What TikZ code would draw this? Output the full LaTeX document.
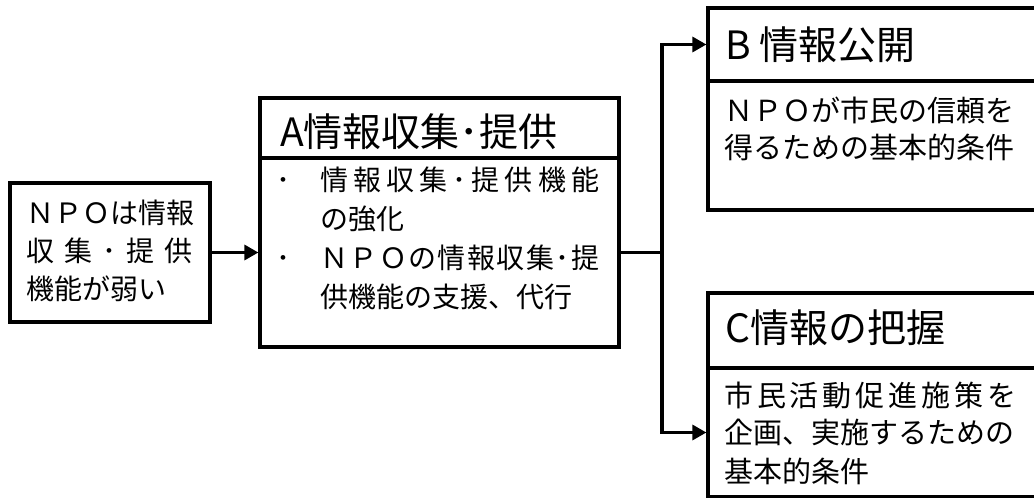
\documentclass[tikz,border=0pt]{standalone}
\usepackage{fontspec}
\newfontfamily\jp{Noto Sans CJK JP}
\usetikzlibrary{arrows.meta}
\def\spx#1{\ifx#1\relax\else\hfill#1\expandafter\spx\fi}
\def\spfirst#1{#1\spx}
\newcommand\jline[2]{\makebox[#1][s]{\spfirst#2\relax}}
\tikzset{
  box/.style={draw, line width=3.2pt, inner sep=0pt, outer sep=1.6pt, rectangle},
  conn/.style={line width=3.2pt},
  arr/.style={conn, -{Triangle[length=14pt,width=15pt]}},
  txt/.style={font=\jp\fontsize{28}{34}\selectfont, anchor=base west, inner sep=0pt},
  txtb/.style={font=\jp\fontsize{29}{35}\selectfont, anchor=base west, inner sep=0pt},
  ttl/.style={font=\jp\fontsize{39}{46}\selectfont, anchor=base west, inner sep=0pt},
}
\begin{document}
\begin{tikzpicture}[x=1pt,y=-1pt]
\useasboundingbox (0,0) rectangle (1034,498);
\clip (0,0) rectangle (1034,498);
% boxes
\node[box, minimum width=200pt, minimum height=139pt] (L) at (110,252.5) {};
\node[box, minimum width=359pt, minimum height=60pt] (At) at (439.5,128) {};
\node[box, minimum width=359pt, minimum height=189pt] (Ab) at (439.5,252.5) {};
\node[box, minimum width=336pt, minimum height=73pt] (Bt) at (876,44.5) {};
\node[box, minimum width=336pt, minimum height=129pt] (Bb) at (876,145.5) {};
\node[box, minimum width=336pt, minimum height=75pt] (Ct) at (876,330.5) {};
\node[box, minimum width=336pt, minimum height=129pt] (Cb) at (876,432.5) {};
% left text
\node[txt] (l1) at (26,223) {ＮＰＯは情報};
\node[txt] (l2) at (26,261.5) {\jline{166pt}{収集･提供}};
\node[txt] (l3) at (26,299) {機能が弱い};
% A
\node[ttl] (at) at (280,146) {A情報収集･提供};
\node[txt, anchor=base] (d1) at (283,190.6) {･};
\node[txt] (a1) at (320,190.6) {\jline{279pt}{情報収集･提供機能}};
\node[txt] (a2) at (320,229.6) {の強化};
\node[txt, anchor=base] (d2) at (283,268.6) {･};
\node[txt] (a3) at (320,268.6) {\jline{279pt}{ＮＰＯの情報収集･提}};
\node[txt] (a4) at (320,307.6) {供機能の支援、代行};
% B
\node[ttl] (bt) at (725,59.5) {B 情報公開};
\node[txtb] (b1) at (724,121.7) {ＮＰＯが市民の信頼を};
\node[txtb] (b2) at (724,158.5) {得るための基本的条件};
% C
\node[ttl] (ct) at (725,342) {C情報の把握};
\node[txtb] (c1) at (724,406) {\jline{292pt}{市民活動促進施策を}};
\node[txtb] (c2) at (724,443.5) {企画、実施するための};
\node[txtb] (c3) at (724,482) {基本的条件};
% connectors
\coordinate (J) at (662,252.5);
\draw[arr] (L) -- (Ab);
\draw[conn] (Ab) -- (J);
\draw[arr] (J) |- (Bt);
\draw[arr] (J) |- (Cb);
\end{tikzpicture}
\end{document}
